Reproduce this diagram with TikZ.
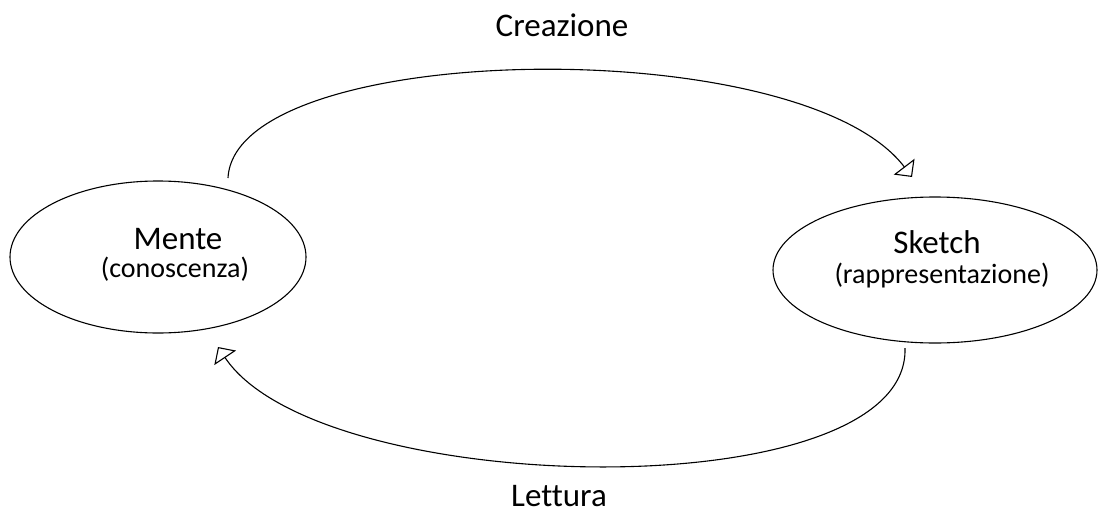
\documentclass[tikz,border=0pt]{standalone}
\usepackage{fontspec}
\setmainfont{Carlito}[Ligatures=NoCommon]
\usetikzlibrary{shapes.geometric,arrows.meta}
\begin{document}
\begin{tikzpicture}[x=1pt,y=-1pt,
  blob/.style={ellipse,draw,line width=1.1pt,inner sep=0pt},
  title/.style={anchor=base,font=\fontsize{33}{36}\selectfont},
  sub/.style={anchor=base,font=\fontsize{28}{31}\selectfont},
  flow/.style={line width=1.1pt,-{Triangle[open,length=13pt,width=26pt,line width=1.1pt]}}]
\useasboundingbox (0,0) rectangle (1102,514);
\node[blob,minimum width=296pt,minimum height=152pt] (mente) at (158,257) {};
\node[blob,minimum width=324pt,minimum height=146pt] (sketch) at (935,270) {};
\node[title] (tm) at (178,249) {Mente};
\node[sub] (sm) at (175,277) {(conoscenza)};
\node[title] (ts) at (937,253) {Sketch};
\node[sub] (ss) at (942,283) {(rappresentazione)};
\coordinate (m1) at ([shift={(70,-79)}]mente.center);
\coordinate (m2) at ([shift={(60,90)}]mente.center);
\coordinate (s1) at ([shift={(-23,-93)}]sketch.center);
\coordinate (s2) at ([shift={(-30,78)}]sketch.center);
\draw[flow] (m1) .. controls (235,40) and (800,30) .. (s1);
\draw[flow] (s2) .. controls (910,510) and (320,500) .. (m2);
\node[title] (crea) at (562,36) {Creazione};
\node[title] (lett) at (559,506) {Lettura};
\end{tikzpicture}
\end{document}
